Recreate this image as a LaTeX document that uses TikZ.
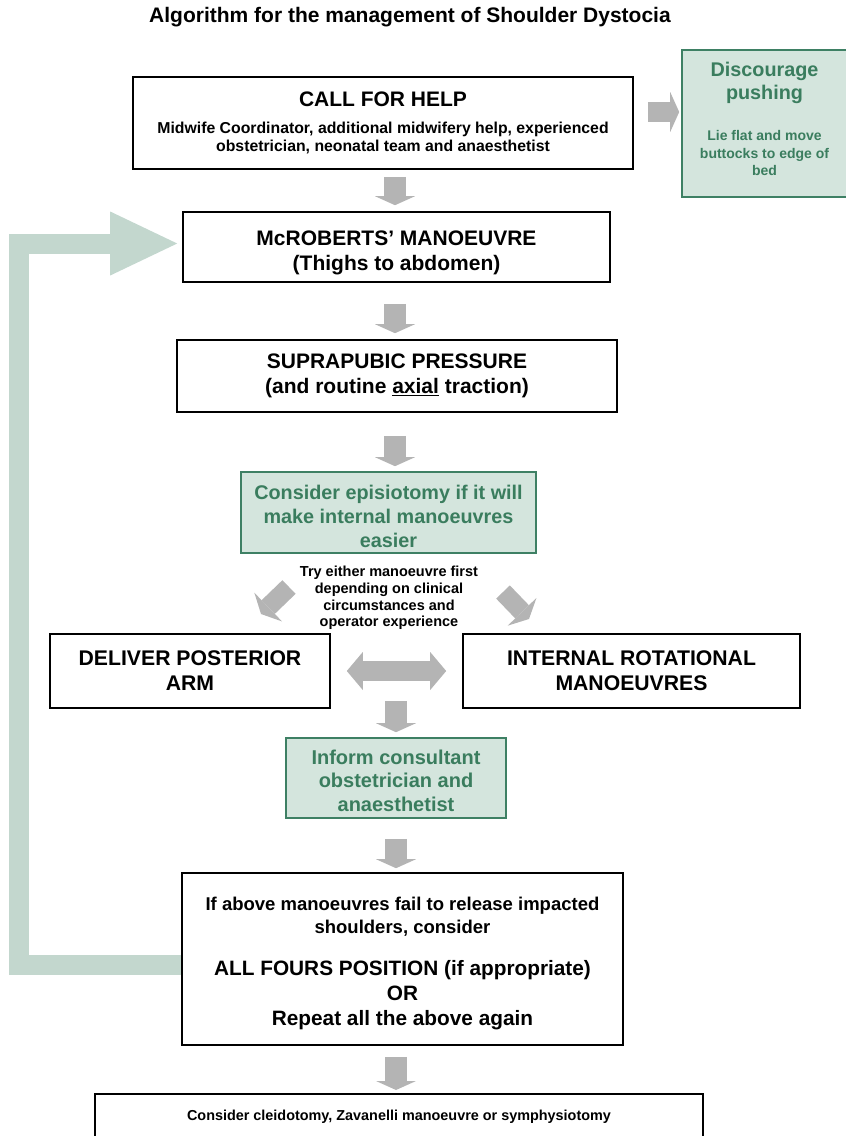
\documentclass[tikz,border=0pt]{standalone}
\usepackage{fontspec}
\setmainfont{Liberation Sans}
\usetikzlibrary{arrows.meta,calc}
\definecolor{gfill}{HTML}{D4E5DD}
\definecolor{gline}{HTML}{3E8064}
\definecolor{gtext}{HTML}{3A7D5E}
\definecolor{agray}{HTML}{B4B4B4}
\definecolor{loopg}{HTML}{C3D7CE}
\newcommand{\tpad}[1]{\rule{0pt}{#1}}
\newcommand{\bpad}[1]{\rule[-#1]{0pt}{#1}}
\begin{document}
\begin{tikzpicture}[x=1pt,y=-1pt,
  box/.style={draw=black, line width=1.6pt, fill=white, inner sep=0pt, align=center},
  gbox/.style={draw=gline, line width=1.6pt, fill=gfill, text=gtext, inner sep=0pt, align=center},
  downarrow/.style={draw=agray, line width=22pt, -{Triangle[width=40pt,length=9pt,line width=0pt]}},
  diagarrow/.style={draw=agray, line width=19pt, -{Triangle[width=40pt,length=10pt,line width=0pt]}},
  sidearrow/.style={draw=agray, line width=20pt, -{Triangle[width=40pt,length=9pt,line width=0pt]}},
  dblarrow/.style={draw=agray, line width=20pt, {Triangle[width=38pt,length=16pt,line width=0pt]}-{Triangle[width=38pt,length=16pt,line width=0pt]}},
  looparrow/.style={draw=loopg, line width=20pt, line join=miter, -{Triangle[width=64pt,length=67pt,line width=0pt]}},
  ]
\useasboundingbox (0,0) rectangle (846,1136);

% title
\node[font=\fontsize{21}{24}\selectfont\bfseries] (title) at (410,17) {Algorithm for the management of Shoulder Dystocia};

% nodes
\node[box, minimum width=500pt, minimum height=92pt, font=\fontsize{15.8}{18}\selectfont\bfseries] (call) at (383,123)
  {{\fontsize{21}{22}\selectfont CALL FOR HELP}\\[9pt]
   Midwife Coordinator, additional midwifery help, experienced\\
   obstetrician, neonatal team and anaesthetist};

\node[gbox, minimum width=165pt, minimum height=147pt, font=\fontsize{14}{17.5}\selectfont\bfseries] (disc) at (764.5,123.5)
  {{\fontsize{19.8}{24}\selectfont Discourage}\\[4pt]
   {\fontsize{19.8}{24}\selectfont pushing}\\[23.5pt]
   Lie flat and move\\ buttocks to edge of\\ bed\bpad{9pt}};

\node[box, minimum width=427pt, minimum height=70pt, font=\fontsize{21}{25}\selectfont\bfseries] (mcr) at (396.5,247)
  {\tpad{25.5pt}McROBERTS’ MANOEUVRE\\(Thighs to abdomen)};

\node[box, minimum width=440pt, minimum height=72pt, font=\fontsize{21}{25}\selectfont\bfseries] (supra) at (397,376)
  {SUPRAPUBIC PRESSURE\\(and routine \underline{axial} traction)};

\node[gbox, minimum width=295pt, minimum height=81pt, font=\fontsize{19.8}{24}\selectfont\bfseries] (epi) at (388.5,512.5)
  {\tpad{22.5pt}Consider episiotomy if it will\\make internal manoeuvres\\easier};

\node[font=\fontsize{14.5}{16.8}\selectfont\bfseries, align=center, inner sep=0pt] (try) at (389,598)
  {Try either manoeuvre first\\depending on clinical\\circumstances and\\operator experience};

\node[box, minimum width=280pt, minimum height=74pt, font=\fontsize{21.2}{25}\selectfont\bfseries] (deliver) at (190,671)
  {DELIVER POSTERIOR\\ARM};

\node[box, minimum width=337pt, minimum height=74pt, font=\fontsize{21.2}{25}\selectfont\bfseries] (internal) at (631.5,671)
  {INTERNAL ROTATIONAL\\MANOEUVRES};

\node[gbox, minimum width=220pt, minimum height=80pt, font=\fontsize{20}{23.5}\selectfont\bfseries] (inform) at (396,778)
  {\tpad{19.6pt}Inform consultant\\obstetrician and\\anaesthetist};

\node[box, minimum width=441pt, minimum height=172pt, font=\fontsize{20.8}{25}\selectfont\bfseries] (ifabove) at (402.5,959)
  {{\fontsize{18.5}{22}\selectfont \tpad{21.5pt}If above manoeuvres fail to release impacted}\\[-2pt]
   {\fontsize{18.5}{22}\selectfont shoulders, consider}\\[17pt]
   ALL FOURS POSITION (if appropriate)\\OR\\Repeat all the above again};

\node[box, anchor=north, minimum width=608pt, inner ysep=16pt, text depth=30pt, font=\fontsize{14.4}{16}\selectfont\bfseries] (bottom) at (399,1093)
  {Consider cleidotomy, Zavanelli manoeuvre or symphysiotomy};

% loop arrow
\coordinate (lc1) at (18.5,965);
\coordinate (lc2) at (18.5,243.5);
\draw[looparrow] ($(ifabove.west)+(0,6)$) -- (lc1) -- (lc2) -- ($(mcr.west |- lc2)+(-5,0)$);

% gray arrows
\draw[sidearrow] ($(call.east)+(14,-11)$) -- ($(call.east -| disc.west)+(-2,-11)$);
\draw[downarrow] ($(call.south -| 395,0)+(0,7)$) -- ($(mcr.north -| 395,0)+(0,-6)$);
\draw[downarrow] ($(mcr.south -| 395,0)+(0,21)$) -- ($(supra.north -| 395,0)+(0,-6)$);
\draw[downarrow] ($(supra.south -| 395,0)+(0,23)$) -- ($(epi.north -| 395,0)+(0,-5)$);
\coordinate (dl1) at (289,587);
\coordinate (dl2) at (261,614);
\coordinate (dr1) at (503,592);
\coordinate (dr2) at (529,619);
\draw[diagarrow] (dl1) -- (dl2);
\draw[diagarrow] (dr1) -- (dr2);
\draw[dblarrow] ($(deliver.east)+(16,0)$) -- ($(internal.west)+(-16,0)$);
\draw[downarrow] ($(deliver.south -| inform.north)+(0,-8)$) -- ($(inform.north)+(0,-5)$);
\draw[downarrow] ($(inform.south)+(0,20)$) -- ($(inform.south |- ifabove.north)+(0,-4)$);
\draw[downarrow] ($(ifabove.south -| inform.south)+(0,11)$) -- ($(inform.south |- bottom.north)+(0,-3)$);
\end{tikzpicture}
\end{document}
